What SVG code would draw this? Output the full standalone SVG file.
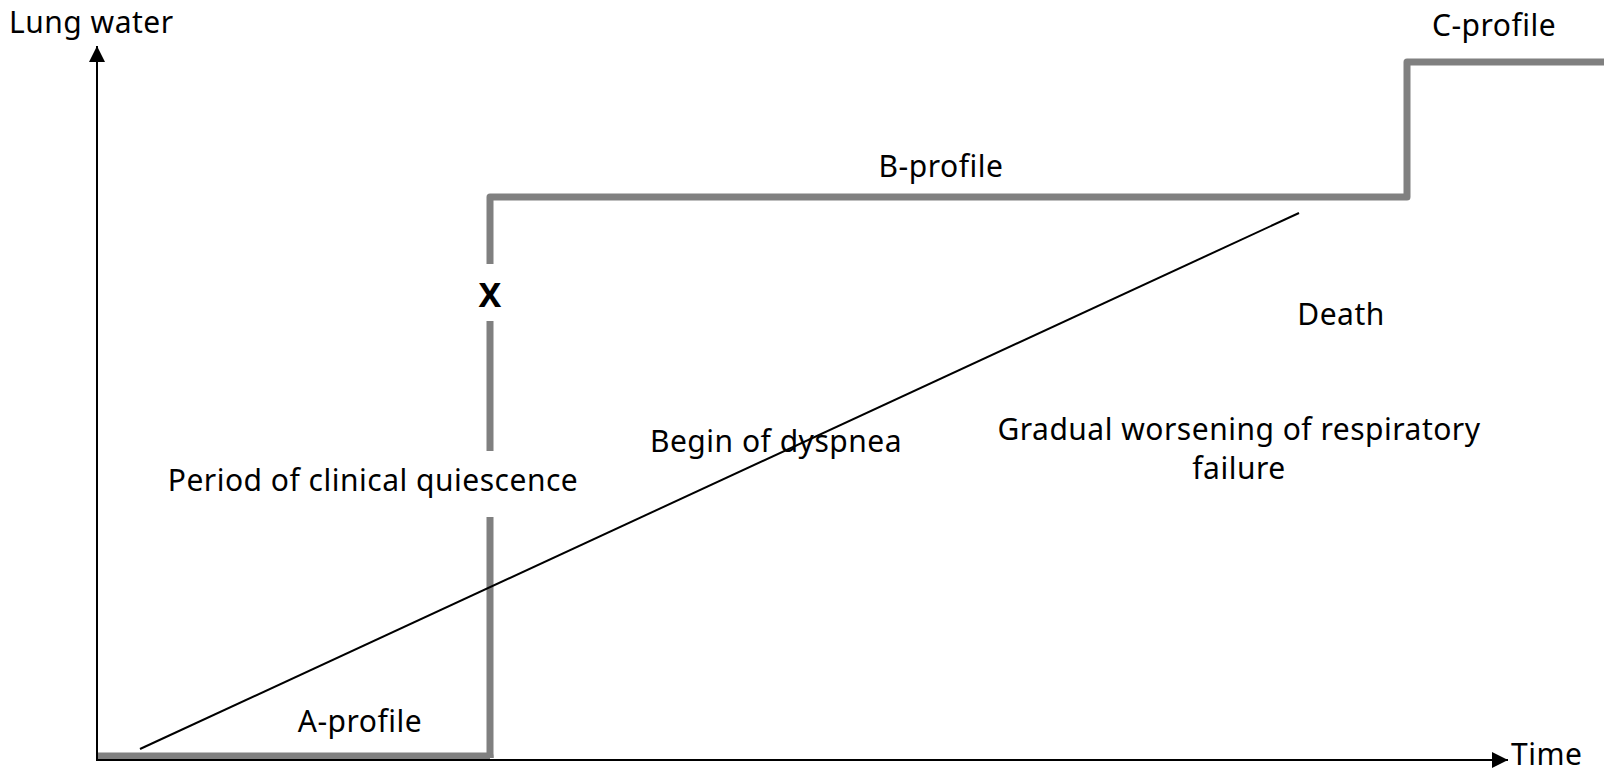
<svg xmlns="http://www.w3.org/2000/svg" width="1604" height="773" viewBox="0 0 1604 773">
<style>
.t{font-family:"Noto Sans","Open Sans","DejaVu Sans",sans-serif;font-size:30px;letter-spacing:0.5px;fill:#000}
.g{fill:none;stroke:#808080;stroke-width:7;stroke-linejoin:round}
.ax{fill:none;stroke:#000;stroke-width:2}
</style>
<defs>
<marker id="ah" markerWidth="16" markerHeight="16" viewBox="0 0 16 16" refX="16" refY="8" orient="auto" markerUnits="userSpaceOnUse">
<path d="M0,0 L16,8 L0,16 Z" fill="#000"/>
</marker>
</defs>
<rect width="1604" height="773" fill="#fff"/>
<g id="connectors">
<path class="g" d="M97,756 H490 V758 M490,264 V197 H1407 V62 H1604"/>
<path class="g" d="M490,321 V451 M490,517 V758"/>
<line class="ax" x1="140" y1="749" x2="1299" y2="213"/>
<line class="ax" x1="97" y1="761" x2="97" y2="46" marker-end="url(#ah)"/>
<line class="ax" x1="96" y1="760" x2="1508" y2="760" marker-end="url(#ah)"/>
</g>
<g id="lung-water"><text class="t" x="9" y="33">Lung water</text></g>
<g id="c-profile"><text class="t" x="1432" y="36">C-profile</text></g>
<g id="b-profile"><text class="t" x="941" y="177" text-anchor="middle">B-profile</text></g>
<g id="x-mark"><text class="t" x="490" y="307" text-anchor="middle" style="font-weight:bold;font-size:34px;letter-spacing:0">X</text></g>
<g id="death"><text class="t" x="1341" y="325" text-anchor="middle">Death</text></g>
<g id="begin-dyspnea"><text class="t" x="776" y="452" text-anchor="middle">Begin of dyspnea</text></g>
<g id="gradual"><text class="t" x="1239" y="440" text-anchor="middle">Gradual worsening of respiratory</text><text class="t" x="1239" y="479" text-anchor="middle">failure</text></g>
<g id="quiescence"><text class="t" x="373" y="491" text-anchor="middle">Period of clinical quiescence</text></g>
<g id="a-profile"><text class="t" x="360" y="732" text-anchor="middle">A-profile</text></g>
<g id="time"><text class="t" x="1511" y="765">Time</text></g>
</svg>
